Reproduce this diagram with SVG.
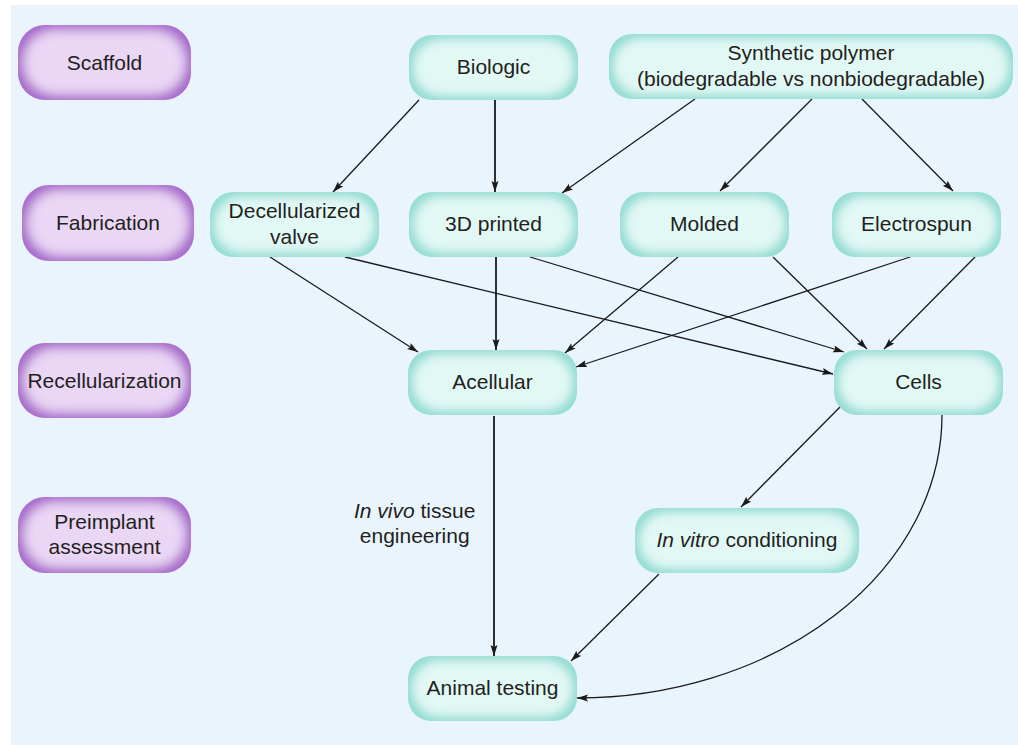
<svg xmlns="http://www.w3.org/2000/svg" width="1018" height="745" viewBox="0 0 1018 745">
<style>
.bg{fill:#EAF4FD}
.stage{fill:#A767CB;filter:url(#pglow)}
.box{fill:#93DDD3;filter:url(#tglow)}
text{font-family:"Liberation Sans",Arial,sans-serif;font-size:21px;fill:#231F20;text-anchor:middle}
.it{font-style:italic}
.edge{fill:none;stroke:#1A1A1A;stroke-width:1.3;marker-end:url(#arr)}
.v{stroke-width:1.8}
</style>
<defs>
<marker id="arr" markerUnits="userSpaceOnUse" markerWidth="12" markerHeight="8" refX="11" refY="3.5" orient="auto">
<path d="M0,0 L11,3.5 L0,7 L2,3.5 z" fill="#1A1A1A"/>
</marker>
<filter id="tglow" x="-5%" y="-10%" width="110%" height="120%">
<feMorphology in="SourceAlpha" operator="erode" radius="8" result="er"/>
<feGaussianBlur in="er" stdDeviation="6" result="bl"/>
<feFlood flood-color="#E2F8F5"/>
<feComposite in2="bl" operator="in" result="light"/>
<feComposite in="light" in2="SourceAlpha" operator="in" result="lc"/>
<feMerge><feMergeNode in="SourceGraphic"/><feMergeNode in="lc"/><feMergeNode in="lc"/></feMerge>
</filter>
<filter id="pglow" x="-5%" y="-10%" width="110%" height="120%">
<feMorphology in="SourceAlpha" operator="erode" radius="9" result="er"/>
<feGaussianBlur in="er" stdDeviation="6.5" result="bl"/>
<feFlood flood-color="#EAD6F5"/>
<feComposite in2="bl" operator="in" result="light"/>
<feComposite in="light" in2="SourceAlpha" operator="in" result="lc"/>
<feMerge><feMergeNode in="SourceGraphic"/><feMergeNode in="lc"/><feMergeNode in="lc"/></feMerge>
</filter>
</defs>
<rect class="bg" x="11" y="5" width="1007" height="740"/>

<g id="connectors">
<path class="edge" d="M419,100 L333,192"/>
<path class="edge v" d="M495,100 L495,192"/>
<path class="edge" d="M695,99 L562,193"/>
<path class="edge" d="M812,99 L720,191"/>
<path class="edge" d="M862,99 L953,191"/>
<path class="edge" d="M270,257 L418,352"/>
<path class="edge" d="M345,257 L833,374"/>
<path class="edge v" d="M496,257 L496,350"/>
<path class="edge" d="M530,257 L844,352"/>
<path class="edge" d="M678,257 L565,353"/>
<path class="edge" d="M773,257 L867,349"/>
<path class="edge" d="M910,257 L576,367"/>
<path class="edge" d="M975,257 L884,349"/>
<path class="edge v" d="M494,416 L494,656"/>
<path class="edge" d="M841,406 L741,507"/>
<path class="edge" d="M659,574 L571,661"/>
<path class="edge" d="M942,415 A365,283 0 0 1 577,698"/>
</g>

<g id="scaffold"><rect class="stage" x="18" y="25" width="173" height="75" rx="27"/><text x="104.5" y="70">Scaffold</text></g>
<g id="fabrication"><rect class="stage" x="22" y="185" width="172" height="76" rx="27"/><text x="108" y="230">Fabrication</text></g>
<g id="recellularization"><rect class="stage" x="18" y="343" width="173" height="75" rx="27"/><text x="104.5" y="388">Recellularization</text></g>
<g id="preimplant"><rect class="stage" x="18" y="497" width="173" height="76" rx="27"/><text x="104.5" y="529">Preimplant</text><text x="104.5" y="554">assessment</text></g>

<g id="biologic"><rect class="box" x="409" y="35" width="169" height="65" rx="23"/><text x="493.5" y="74">Biologic</text></g>
<g id="synthetic"><rect class="box" x="609" y="34" width="404" height="65" rx="23"/><text x="811" y="60">Synthetic polymer</text><text x="811" y="86">(biodegradable vs nonbiodegradable)</text></g>
<g id="decellularized"><rect class="box" x="210" y="192" width="169" height="65" rx="23"/><text x="294.5" y="218">Decellularized</text><text x="294.5" y="244">valve</text></g>
<g id="printed"><rect class="box" x="409" y="192" width="169" height="65" rx="23"/><text x="493.5" y="231">3D printed</text></g>
<g id="molded"><rect class="box" x="620" y="192" width="169" height="65" rx="23"/><text x="704.5" y="231">Molded</text></g>
<g id="electrospun"><rect class="box" x="832" y="192" width="169" height="65" rx="23"/><text x="916.5" y="231">Electrospun</text></g>
<g id="acellular"><rect class="box" x="408" y="350" width="169" height="65" rx="23"/><text x="492.5" y="389">Acellular</text></g>
<g id="cells"><rect class="box" x="834" y="350" width="169" height="65" rx="23"/><text x="918.5" y="389">Cells</text></g>
<g id="invitro"><rect class="box" x="635" y="508" width="224" height="65" rx="23"/><text x="747" y="547"><tspan class="it">In vitro</tspan> conditioning</text></g>
<g id="animal"><rect class="box" x="408" y="656" width="169" height="65" rx="23"/><text x="492.5" y="695">Animal testing</text></g>

<g id="label-invivo"><text x="414.7" y="518"><tspan class="it">In vivo</tspan> tissue</text><text x="414.7" y="543">engineering</text></g>
</svg>
